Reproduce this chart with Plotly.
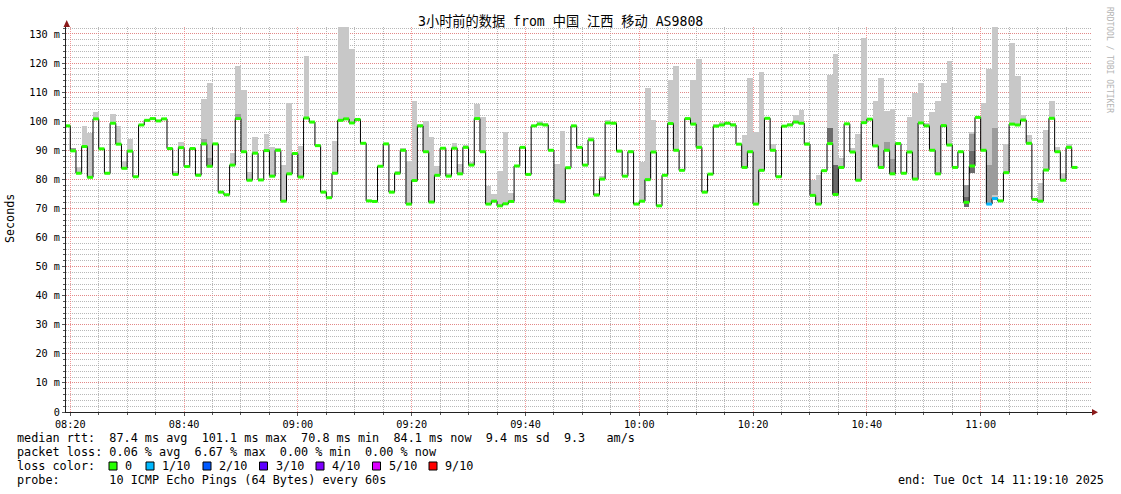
import plotly.graph_objects as go
from datetime import datetime, timedelta

# ---------------- data ----------------
start_time = datetime(2025, 10, 14, 8, 19, 0)   # start of first 60 s step

median_ms = [
    98.4, 89.8, 82.1, 91.3, 80.7, 100.8, 90.5, 82.1, 99.3, 92.1,
    83.8, 89.7, 80.9, 98.7, 100.3, 100.9, 100.1, 100.8, 90.6, 81.7,
    90.9, 84.4, 90.6, 81.4, 92.2, 84.5, 92.2, 75.6, 74.7, 84.9,
    100.9, 89.5, 79.7, 89.0, 79.8, 89.9, 81.1, 90.0, 72.5, 81.9,
    88.9, 80.8, 101.1, 99.7, 91.6, 75.6, 73.7, 82.1, 100.3, 100.8,
    99.4, 100.6, 92.4, 72.6, 72.4, 84.5, 92.2, 75.6, 82.1, 90.0,
    71.5, 79.6, 98.4, 89.5, 72.2, 81.4, 90.7, 81.1, 90.7, 81.9,
    91.0, 84.9, 100.9, 89.5, 71.5, 72.5, 70.9, 71.6, 72.4, 84.6,
    91.0, 81.7, 98.4, 99.0, 98.7, 90.0, 72.6, 72.3, 84.0, 98.4,
    91.0, 84.9, 93.6, 74.6, 80.1, 99.4, 99.3, 89.7, 81.1, 89.5,
    71.5, 72.5, 79.9, 89.4, 70.9, 81.4, 99.2, 90.0, 83.1, 100.9,
    99.0, 91.0, 75.6, 81.8, 98.3, 98.7, 99.3, 98.7, 92.1, 84.1,
    89.5, 71.5, 83.1, 101.0, 90.0, 80.9, 98.3, 98.7, 99.7, 99.3,
    92.1, 74.5, 71.5, 83.0, 92.3, 74.8, 84.1, 99.1, 89.4, 79.7,
    99.5, 100.7, 91.5, 84.1, 90.0, 81.9, 92.3, 82.1, 89.4, 80.1,
    99.4, 98.4, 90.0, 81.9, 98.5, 91.8, 84.1, 89.5, 72.1, 84.6,
    101.3, 90.0, 71.5, 73.4, 72.6, 82.3, 99.0, 98.7, 100.4, 92.4,
    73.1, 72.5, 83.2, 101.0, 89.5, 79.7, 91.0, 84.1,
]

# steps with packet loss (index, lost pings out of 10)
loss_index = [162, 163]
loss_tenths = [1, 1]

# light smoke: highest ping per step (only steps where it shows)
smoke_index = [
    1, 2, 3, 4, 5, 8, 9, 10, 11, 19, 20, 22, 23, 24, 25, 29, 30, 31, 32, 33,
    35, 36, 37, 38, 39, 41, 42, 47, 48, 49, 50, 58, 59, 60, 61, 62, 63, 64, 65, 66,
    67, 68, 69, 70, 71, 72, 73, 74, 75, 76, 77, 78, 83, 84, 86, 87, 92, 93, 94, 95,
    99, 101, 102, 103, 106, 107, 110, 111, 114, 115, 116, 117, 119, 120, 121, 122, 124, 126, 127, 128,
    129, 130, 131, 132, 134, 135, 136, 138, 139, 140, 142, 143, 144, 145, 146, 148, 149, 150, 151, 152,
    153, 154, 155, 158, 159, 161, 162, 163, 165, 166, 167, 168, 169, 170, 171, 172, 173, 174, 175, 176,
    177,
]
smoke_top = [
    90.7, 84.3, 98.5, 95.9, 103.0, 102.6, 98.2, 86.4, 93.9, 82.8, 93.0, 91.1, 82.3, 107.6, 113.3, 89.2, 118.9, 110.9, 82.6, 94.4,
    95.5, 91.0, 90.7, 84.9, 106.2, 91.6, 122.3, 93.3, 133.0, 133.0, 124.7, 82.9, 90.7, 86.4, 107.1, 99.0, 100.2, 94.7, 84.7, 91.3,
    82.1, 92.6, 85.2, 91.9, 85.9, 105.9, 101.6, 77.7, 75.0, 83.0, 96.4, 75.2, 99.9, 99.3, 85.2, 96.8, 94.7, 75.4, 81.1, 100.5,
    90.0, 86.1, 111.3, 100.5, 114.0, 118.9, 114.3, 121.3, 99.1, 99.7, 99.7, 99.5, 95.3, 115.0, 96.4, 116.8, 92.1, 98.7, 99.3, 102.2,
    104.0, 92.8, 79.8, 81.6, 116.0, 123.1, 87.2, 90.7, 95.5, 128.6, 106.8, 114.8, 103.4, 104.3, 93.0, 101.3, 109.7, 113.3, 99.3, 103.1,
    106.8, 113.3, 120.6, 78.0, 96.4, 106.2, 117.8, 133.0, 92.3, 126.8, 115.4, 102.2, 95.1, 73.7, 78.7, 97.1, 106.8, 91.3, 82.3, 92.1,
    84.6,
]

# denser smoke bands (several pings overlapping)
mid_index = [1, 24, 25, 30, 144, 145, 158, 159, 162, 163]
mid_low = [89.8, 92.2, 84.5, 100.9, 90.0, 81.9, 74.0, 89.7, 72.0, 74.6]
mid_high = [90.7, 93.8, 87.2, 102.5, 93.0, 86.9, 78.0, 95.5, 84.9, 97.8]

deep_index = [134, 135, 158, 159]
deep_low = [93.0, 75.2, 70.6, 82.1]
deep_high = [97.8, 84.9, 74.0, 89.7]

y_tick_values = [0, 10, 20, 30, 40, 50, 60, 70, 80, 90, 100, 110, 120, 130]
y_tick_labels = ["0", "10 m", "20 m", "30 m", "40 m", "50 m", "60 m", "70 m",
                 "80 m", "90 m", "100 m", "110 m", "120 m", "130 m"]

loss_colors = {0: "#26ff00", 1: "#00b8ff", 2: "#0059ff", 3: "#5e00ff",
               4: "#7e00ff", 5: "#dd00ff", 9: "#ff0000"}
legend_levels = [0, 1, 2, 3, 4, 5, 9]
legend_labels = ["0", "1/10", "2/10", "3/10", "4/10", "5/10", "9/10"]

title_text = "3小时前的数据 from 中国 江西 移动 AS9808"
stat_line1 = "median rtt:  87.4 ms avg  101.1 ms max  70.8 ms min  84.1 ms now  9.4 ms sd  9.3   am/s"
stat_line2 = "packet loss: 0.06 % avg  6.67 % max  0.00 % min  0.00 % now"
stat_line3 = "loss color:"
stat_line4 = "probe:       10 ICMP Echo Pings (64 Bytes) every 60s"
end_text = "end: Tue Oct 14 11:19:10 2025"
watermark = "RRDTOOL / TOBI OETIKER"

# ---------------- layout geometry ----------------
W, H = 1121, 494
L, R, T, B = 66, 1092, 27, 412
MONO = "DejaVu Sans Mono, Noto Sans CJK SC, monospace"


def px(x):
    return (x - L) / (R - L)


def py(y):
    return (B - y) / (B - T)


def nb(s):
    return s.replace(" ", "\u00a0")


n = len(median_ms)
times = [start_time + timedelta(minutes=i) for i in range(n + 1)]
centers = [t + timedelta(seconds=30) for t in times[:n]]
loss_of = {i: v for i, v in zip(loss_index, loss_tenths)}

fig = go.Figure()

# light smoke
fig.add_trace(go.Bar(
    x=[centers[i] for i in smoke_index],
    base=[min(median_ms[i], top) for i, top in zip(smoke_index, smoke_top)],
    y=[max(top - median_ms[i], 0) for i, top in zip(smoke_index, smoke_top)],
    width=60000, marker=dict(color="#c8c8c8", line=dict(width=0)),
    hoverinfo="skip", showlegend=False,
))
fig.add_trace(go.Bar(
    x=[centers[i] for i in mid_index], base=mid_low,
    y=[h - l for l, h in zip(mid_low, mid_high)],
    width=60000, marker=dict(color="#9c9c9c", line=dict(width=0)),
    hoverinfo="skip", showlegend=False,
))
fig.add_trace(go.Bar(
    x=[centers[i] for i in deep_index], base=deep_low,
    y=[h - l for l, h in zip(deep_low, deep_high)],
    width=60000, marker=dict(color="#6a6a6a", line=dict(width=0)),
    hoverinfo="skip", showlegend=False,
))

# median line (thin black step)
fig.add_trace(go.Scatter(
    x=times, y=median_ms + [median_ms[-1]], mode="lines",
    line=dict(color="#000000", width=1, shape="hv"),
    hoverinfo="skip", showlegend=False,
))

# loss-coloured median segments
for lvl in sorted(set([0] + loss_tenths)):
    xs, ys = [], []
    for i in range(n):
        if loss_of.get(i, 0) == lvl:
            xs += [times[i], times[i + 1], None]
            ys += [median_ms[i], median_ms[i], None]
    fig.add_trace(go.Scatter(
        x=xs, y=ys, mode="lines",
        line=dict(color=loss_colors[lvl], width=3),
        hoverinfo="skip", showlegend=False,
    ))

annotations = [
    dict(text=nb(title_text), x=px(560.5), y=py(21), xref="paper", yref="paper",
         xanchor="center", yanchor="middle", showarrow=False, borderpad=0,
         font=dict(family=MONO, size=13.2, color="#000")),
    dict(text="Seconds", x=px(10), y=py(219), xref="paper", yref="paper",
         textangle=-90, showarrow=False, xanchor="center", yanchor="middle",
         font=dict(family=MONO, size=11.7, color="#000")),
    dict(text=nb(watermark), x=px(1110), y=py(60), xref="paper", yref="paper",
         textangle=90, showarrow=False, xanchor="center", yanchor="middle",
         font=dict(family=MONO, size=8, color="#b4b4b4")),
]
for txt, yy in [(stat_line1, 438), (stat_line2, 452), (stat_line3, 466), (stat_line4, 480)]:
    annotations.append(dict(text=nb(txt), x=px(16), y=py(yy), xref="paper", yref="paper",
                            xanchor="left", yanchor="middle", showarrow=False, borderpad=0,
                            font=dict(family=MONO, size=11.8, color="#000")))
annotations.append(dict(text=nb(end_text), x=px(1105), y=py(480), xref="paper", yref="paper",
                        xanchor="right", yanchor="middle", showarrow=False, borderpad=0,
                        font=dict(family=MONO, size=11.8, color="#000")))

shapes = []
box_x = [109, 146, 203, 259.5, 316, 372.5, 429]
for bx, lvl, lab in zip(box_x, legend_levels, legend_labels):
    shapes.append(dict(type="rect", xref="paper", yref="paper",
                       x0=px(bx), x1=px(bx + 8), y0=py(470), y1=py(462),
                       fillcolor=loss_colors[lvl], line=dict(color="#000", width=1)))
    annotations.append(dict(text=lab, x=px(bx + 15), y=py(466), xref="paper", yref="paper",
                            xanchor="left", yanchor="middle", showarrow=False, borderpad=0,
                            font=dict(family=MONO, size=11.8, color="#000")))

# axis arrows
shapes.append(dict(type="path", xref="paper", yref="paper",
                   path=f"M {px(63.5)},{py(27)} L {px(70)},{py(27)} L {px(66.7)},{py(20)} Z",
                   fillcolor="#8b1a1a", line=dict(width=0)))
shapes.append(dict(type="path", xref="paper", yref="paper",
                   path=f"M {px(1092)},{py(409)} L {px(1092)},{py(415.5)} L {px(1098)},{py(412.2)} Z",
                   fillcolor="#8b1a1a", line=dict(width=0)))

major_grid = "rgba(240,120,120,0.75)"
minor_grid = "rgba(160,160,160,0.75)"

fig.update_layout(
    width=W, height=H,
    margin=dict(l=L, r=W - R, t=T, b=H - B, pad=0),
    paper_bgcolor="#ffffff", plot_bgcolor="#ffffff",
    barmode="overlay", bargap=0,
    showlegend=False,
    annotations=annotations, shapes=shapes,
    xaxis=dict(
        type="date",
        range=["2025-10-14 08:19:15", "2025-10-14 11:19:34"],
        tick0="2025-10-14 08:00:00", dtick=20 * 60 * 1000,
        tickformat="%H:%M",
        tickfont=dict(family=MONO, size=10.2, color="#000"),
        showgrid=True, gridcolor=major_grid, griddash="1px,1px", gridwidth=1,
        minor=dict(dtick=5 * 60 * 1000, showgrid=True, gridcolor=minor_grid,
                   griddash="1px,1px", gridwidth=1, ticks="outside", ticklen=2,
                   tickcolor="#555"),
        ticks="outside", ticklen=3, tickcolor="#555",
        showline=True, linecolor="#222", linewidth=1,
        zeroline=False, fixedrange=True,
    ),
    yaxis=dict(
        range=[0, (B - T) / 2.908],
        tickmode="array", tickvals=y_tick_values, ticktext=y_tick_labels,
        tickfont=dict(family=MONO, size=10.2, color="#000"),
        showgrid=True, gridcolor=major_grid, griddash="1px,1px", gridwidth=1,
        minor=dict(dtick=2, showgrid=True, gridcolor=minor_grid,
                   griddash="1px,1px", gridwidth=1, ticks="outside", ticklen=2,
                   tickcolor="#555"),
        ticks="outside", ticklen=3, tickcolor="#555",
        showline=True, linecolor="#222", linewidth=1,
        zeroline=False, fixedrange=True,
    ),
)

fig.write_html("out.html", config={"displayModeBar": False},
               post_script="document.body.style.margin='0';")
